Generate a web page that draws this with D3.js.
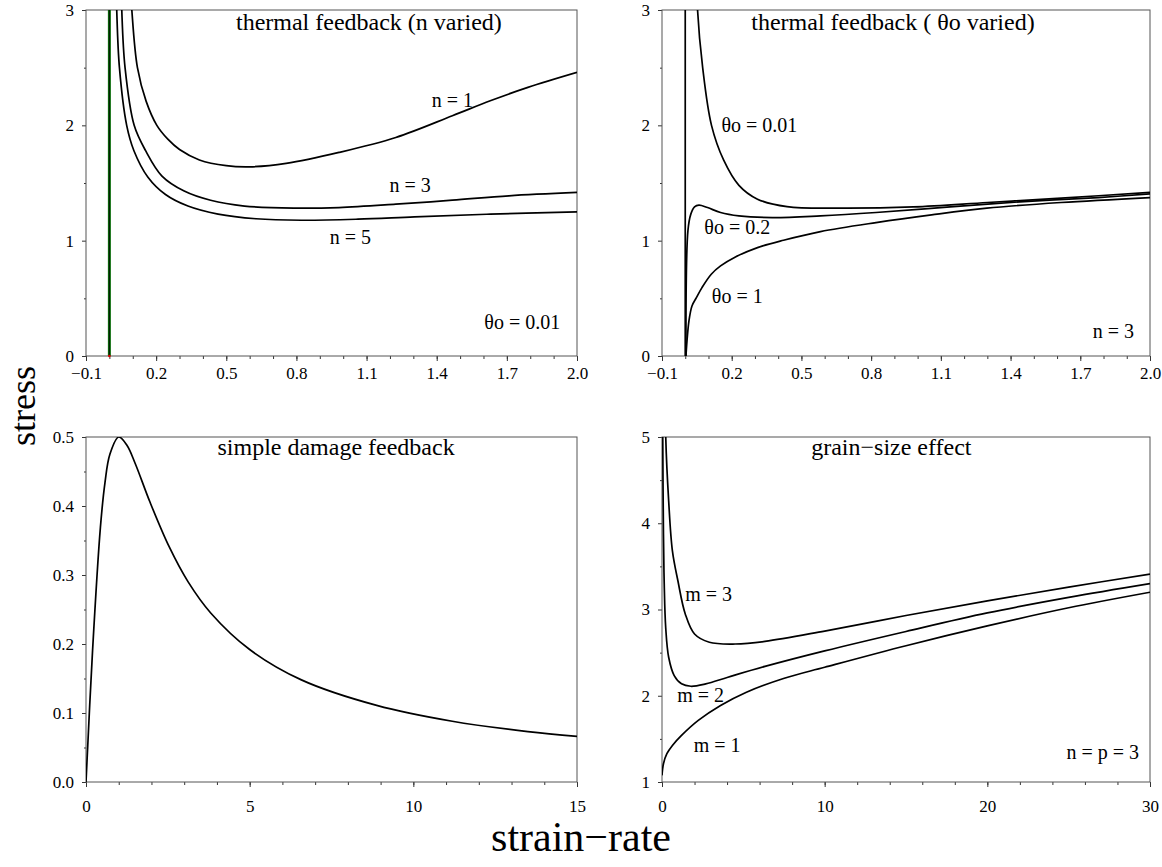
<!DOCTYPE html>
<html><head><meta charset="utf-8">
<script src="https://cdn.jsdelivr.net/npm/d3@7"></script>
<style>
body{margin:0;background:#fff;}
svg{display:block;}
text{font-family:"Liberation Serif","Times New Roman",serif;fill:#000;}
</style></head><body>
<svg id="chart" width="1162" height="867"></svg>
<script>
// ---------------- tick labels ----------------
const thermalXTicks = [-0.1, 0.2, 0.5, 0.8, 1.1, 1.4, 1.7, 2.0];
const thermalYTicks = [0, 1, 2, 3];
const damageXTicks = [0, 5, 10, 15];
const damageYTicks = [0.0, 0.1, 0.2, 0.3, 0.4, 0.5];
const grainXTicks = [0, 10, 20, 30];
const grainYTicks = [1, 2, 3, 4, 5];

// ---------------- thermal feedback (n varied), theta_o = 0.01 ----------------
const nVaried1 = [[0.088,3.3],[0.096,3.0],[0.12,2.5],[0.157,2.21],[0.203,2.0],[0.25,1.88],[0.3,1.79],[0.385,1.70],[0.5,1.65],[0.6,1.64],[0.756,1.67],[0.982,1.765],[1.225,1.895],[1.467,2.083],[1.629,2.213],[1.79,2.329],[2.0,2.459]];
const nVaried3 = [[0.05,3.3],[0.053,3.0],[0.067,2.5],[0.106,2.0],[0.155,1.78],[0.225,1.56],[0.32,1.43],[0.433,1.35],[0.578,1.30],[0.788,1.282],[0.982,1.287],[1.225,1.316],[1.467,1.351],[1.709,1.389],[2.0,1.418]];
const nVaried5 = [[0.028,3.3],[0.0314,3.0],[0.043,2.5],[0.074,2.0],[0.105,1.78],[0.165,1.55],[0.24,1.40],[0.336,1.30],[0.465,1.23],[0.627,1.19],[0.821,1.177],[1.063,1.186],[1.305,1.206],[1.629,1.23],[2.0,1.25]];
const nVariedMarker = [[0,0],[0,3]];

// ---------------- thermal feedback (theta_o varied), n = 3 ----------------
const theta001Vertical = [[0,0],[0,3]];
const theta001 = [[0.05,3.3],[0.053,3.0],[0.075,2.5],[0.113,2.0],[0.165,1.7],[0.231,1.48],[0.311,1.36],[0.438,1.295],[0.662,1.282],[0.982,1.293],[1.3,1.331],[1.618,1.369],[2.0,1.418]];
const theta02 = [[0.003,0],[0.0115,1.085],[0.024,1.23],[0.04,1.293],[0.059,1.308],[0.096,1.287],[0.152,1.244],[0.231,1.215],[0.375,1.2],[0.582,1.215],[0.821,1.244],[1.14,1.293],[1.458,1.339],[1.777,1.374],[2.0,1.405]];
const theta1 = [[0.003,0],[0.016,0.304],[0.029,0.434],[0.048,0.506],[0.072,0.593],[0.112,0.709],[0.152,0.781],[0.216,0.859],[0.311,0.94],[0.423,1.004],[0.582,1.079],[0.821,1.157],[1.06,1.224],[1.298,1.282],[1.617,1.331],[2.0,1.374]];

// ---------------- simple damage feedback ----------------
const damageStrainRate = [0, 0.2, 0.44, 0.58, 0.73, 1.0, 1.25, 1.5, 1.96, 2.54, 3.12, 3.81, 5, 6.58, 8.88, 11.19, 13.5, 15];
const damageStress = [0, 0.19, 0.369, 0.434, 0.475, 0.5, 0.488, 0.462, 0.405, 0.341, 0.29, 0.245, 0.192, 0.148, 0.111, 0.088, 0.073, 0.066];

// ---------------- grain-size effect, n = p = 3 ----------------
const grainM3 = [[0.2,5.6],[0.23,5.0],[0.41,4.26],[0.64,3.68],[0.98,3.33],[1.43,2.948],[2.0,2.716],[2.91,2.62],[4.5,2.6],[6.33,2.63],[10,2.75],[15,2.93],[20,3.10],[25,3.26],[30,3.41]];
const grainM2 = [[0.04,5.6],[0.046,5.0],[0.09,3.87],[0.137,3.295],[0.228,2.79],[0.41,2.446],[0.75,2.234],[1.2,2.138],[1.775,2.11],[2.69,2.138],[4.05,2.215],[6.33,2.34],[10,2.52],[15,2.745],[20,2.96],[25,3.14],[30,3.30]];
const grainM1 = [[0,1.077],[0.09,1.212],[0.3,1.328],[0.64,1.424],[1.2,1.54],[2.23,1.714],[3.6,1.887],[5.19,2.041],[7.47,2.2],[10,2.33],[15,2.58],[20,2.81],[25,3.02],[30,3.2]];

// ---------------- drawing ----------------
const svg = d3.select('#chart');
const fmtSigned1 = d => (d < 0 ? '\u2212' + Math.abs(d).toFixed(1) : d.toFixed(1));
const SERIF = '"Liberation Serif","Times New Roman",serif';

function drawPanel(p) {
  const g = svg.append('g');
  const x = d3.scaleLinear().domain(p.xDomain).range([p.left, p.right]);
  const y = d3.scaleLinear().domain(p.yDomain).range([p.bottom, p.top]);
  const clipId = 'clip' + p.id;
  svg.append('clipPath').attr('id', clipId).append('rect')
    .attr('x', p.left).attr('y', p.top).attr('width', p.right - p.left).attr('height', p.bottom - p.top);

  const axisColor = '#333';
  const styleText = s => s.selectAll('text').style('font-size', '17px').style('font-family', SERIF).attr('fill', '#000');
  g.append('g').attr('transform', `translate(0,${p.bottom})`).style('color', axisColor)
    .call(d3.axisBottom(x).tickValues(p.xMinor).tickSize(3).tickFormat(''))
    .call(s => s.select('.domain').remove());
  g.append('g').attr('transform', `translate(0,${p.bottom})`).style('color', axisColor)
    .call(d3.axisBottom(x).tickValues(p.xMajor).tickSize(5).tickPadding(p.xPad).tickFormat(p.xFmt))
    .call(s => s.select('.domain').remove()).call(styleText);
  g.append('g').attr('transform', `translate(${p.left},0)`).style('color', axisColor)
    .call(d3.axisLeft(y).tickValues(p.yMinor).tickSize(2).tickFormat(''))
    .call(s => s.select('.domain').remove());
  g.append('g').attr('transform', `translate(${p.left},0)`).style('color', axisColor)
    .call(d3.axisLeft(y).tickValues(p.yMajor).tickSize(4).tickPadding(8).tickFormat(p.yFmt))
    .call(s => s.select('.domain').remove()).call(styleText);

  g.append('rect').attr('x', p.left).attr('y', p.top)
    .attr('width', p.right - p.left).attr('height', p.bottom - p.top)
    .attr('fill', 'none').attr('stroke', '#555').attr('stroke-width', 1);

  const plot = g.append('g').attr('clip-path', `url(#${clipId})`);
  (p.extra || []).forEach(e => {
    const ln = d3.line().x(d => x(d[0])).y(d => y(d[1]));
    plot.append('path').datum(e.data).attr('d', ln)
      .attr('fill', 'none').attr('stroke', e.color).attr('stroke-width', e.width);
  });
  const line = d3.line().x(d => x(d[0])).y(d => y(d[1])).curve(d3.curveCatmullRom.alpha(0.5));
  p.series.forEach(s => {
    plot.append('path').datum(s).attr('d', line)
      .attr('fill', 'none').attr('stroke', '#000').attr('stroke-width', 1.7).attr('stroke-linejoin', 'round');
  });
  (p.dots || []).forEach(d => {
    g.append('circle').attr('cx', x(d[0])).attr('cy', y(d[1])).attr('r', 1.3).attr('fill', '#d00');
  });
  g.append('text').attr('x', x(p.title.x)).attr('y', y(p.title.y)).attr('text-anchor', 'middle')
    .style('font-size', '24px').style('font-family', SERIF).text(p.title.t);
  p.labels.forEach(l => {
    g.append('text').attr('x', x(l.x)).attr('y', y(l.y)).attr('text-anchor', 'middle')
      .style('font-size', '20px').style('font-family', SERIF).text(l.t);
  });
}

const topY = 10, topB = 356, botY = 437, botB = 782;
const leftL = 86, leftR = 577, rightL = 662, rightR = 1150;

drawPanel({
  id: 'tl', left: leftL, right: leftR, top: topY, bottom: topB,
  xDomain: [-0.1, 2.0], yDomain: [0, 3],
  xMajor: thermalXTicks, xMinor: d3.range(-0.1, 2.05, 0.1), xFmt: fmtSigned1, xPad: 6,
  yMajor: thermalYTicks, yMinor: [0.5, 1.5, 2.5], yFmt: d3.format('d'),
  series: [nVaried1, nVaried3, nVaried5],
  extra: [{data: nVariedMarker, color: '#0a6a0a', width: 3}, {data: nVariedMarker, color: '#000', width: 0.8}],
  dots: [[0, 0]],
  title: {x: 1.11, y: 2.83, t: 'thermal feedback (n varied)'},
  labels: [{x: 1.467, y: 2.155, t: 'n = 1'}, {x: 1.286, y: 1.418, t: 'n = 3'}, {x: 1.031, y: 0.975, t: 'n = 5'}, {x: 1.766, y: 0.231, t: '\u03b8o = 0.01'}]
});

drawPanel({
  id: 'tr', left: rightL, right: rightR, top: topY, bottom: topB,
  xDomain: [-0.1, 2.0], yDomain: [0, 3],
  xMajor: thermalXTicks, xMinor: d3.range(-0.1, 2.05, 0.1), xFmt: fmtSigned1, xPad: 6,
  yMajor: thermalYTicks, yMinor: [0.5, 1.5, 2.5], yFmt: d3.format('d'),
  series: [theta001, theta02, theta1],
  extra: [{data: theta001Vertical, color: '#000', width: 1.7}],
  title: {x: 0.894, y: 2.83, t: 'thermal feedback ( \u03b8o varied)'},
  labels: [{x: 0.319, y: 1.94, t: '\u03b8o = 0.01'}, {x: 0.224, y: 1.056, t: '\u03b8o = 0.2'}, {x: 0.224, y: 0.463, t: '\u03b8o = 1'}, {x: 1.842, y: 0.159, t: 'n = 3'}]
});

drawPanel({
  id: 'bl', left: leftL, right: leftR, top: botY, bottom: botB,
  xDomain: [0, 15], yDomain: [0, 0.5],
  xMajor: damageXTicks, xMinor: d3.range(0, 15.5, 1), xFmt: d3.format('d'), xPad: 13,
  yMajor: damageYTicks, yMinor: d3.range(0.05, 0.5, 0.1), yFmt: d3.format('.1f'),
  series: [damageStrainRate.map((v, i) => [v, damageStress[i]])],
  title: {x: 7.64, y: 0.474, t: 'simple damage feedback'},
  labels: []
});

drawPanel({
  id: 'br', left: rightL, right: rightR, top: botY, bottom: botB,
  xDomain: [0, 30], yDomain: [1, 5],
  xMajor: grainXTicks, xMinor: d3.range(0, 30.5, 2), xFmt: d3.format('d'), xPad: 13,
  yMajor: grainYTicks, yMinor: [1.5, 2.5, 3.5, 4.5], yFmt: d3.format('d'),
  series: [grainM3, grainM2, grainM1],
  title: {x: 14.1, y: 4.79, t: 'grain\u2212size effect'},
  labels: [{x: 2.87, y: 3.10, t: 'm = 3'}, {x: 2.37, y: 1.926, t: 'm = 2'}, {x: 3.39, y: 1.347, t: 'm = 1'}, {x: 27.1, y: 1.27, t: 'n = p = 3'}]
});

svg.append('text').attr('transform', 'translate(35,406) rotate(-90)').attr('text-anchor', 'middle')
  .style('font-size', '36px').style('font-family', SERIF).text('stress');
svg.append('text').attr('x', 581).attr('y', 851).attr('text-anchor', 'middle')
  .style('font-size', '42px').style('font-family', SERIF).text('strain\u2212rate');
</script>
</body></html>
